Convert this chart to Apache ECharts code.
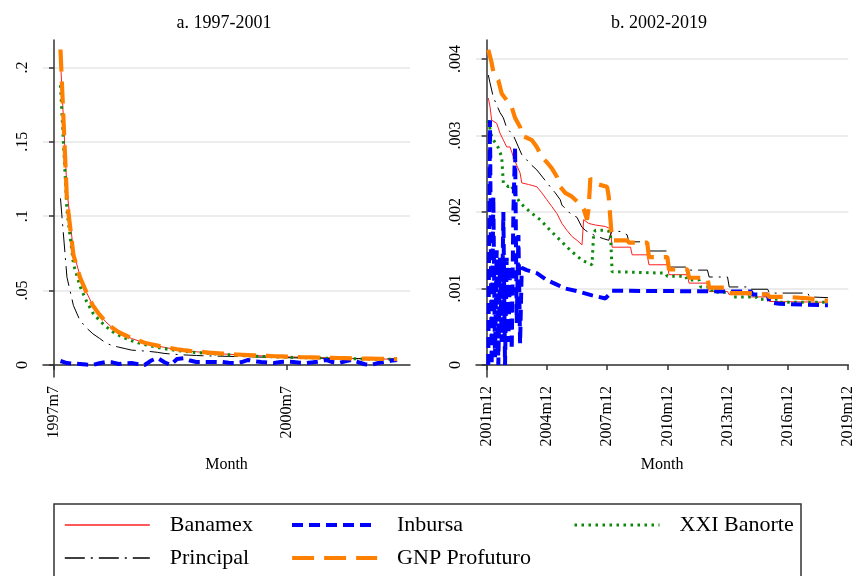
<!DOCTYPE html>
<html>
<head>
<meta charset="utf-8">
<script src="https://cdn.jsdelivr.net/npm/echarts@6/dist/echarts.min.js"></script>
<style>
html, body { margin: 0; padding: 0; background: #fff; }
#main { width: 856px; height: 576px; }
</style>
</head>
<body>
<div id="main"></div>
<script>
// series names (legend order)
var names = ['Banamex', 'Inbursa', 'XXI Banorte', 'Principal', 'GNP Profuturo'];

// panel a: monthly values 1997m8 .. 2001m12
var startA = '1997m8';
var banamexA = [0.205, 0.118, 0.076, 0.060, 0.049, 0.040, 0.034, 0.029, 0.025, 0.022, 0.0198, 0.0178, 0.0163, 0.0149, 0.0138, 0.0128, 0.0119, 0.0111, 0.0104, 0.0098, 0.0093, 0.0089, 0.0085, 0.0081, 0.0078, 0.0075, 0.0072, 0.0070, 0.0068, 0.0066, 0.0064, 0.0062, 0.0060, 0.0058, 0.0057, 0.0055, 0.0054, 0.0052, 0.0051, 0.0050, 0.0049, 0.0048, 0.0047, 0.0046, 0.0045, 0.0044, 0.0043, 0.0042, 0.0042, 0.0041, 0.0040, 0.0040, 0.0039];
var inbursaA = [0.0027, 0.0013, 0.0009, 0.0007, 0.0003, 0.0, 0.0012, 0.002, 0.0018, 0.0007, 0.0012, 0.0013, 0.0006, 0.0, 0.003, 0.0047, 0.002, 0.0, 0.004, 0.0045, 0.003, 0.002, 0.002, 0.002, 0.0021, 0.002, 0.0015, 0.0013, 0.002, 0.0034, 0.0025, 0.002, 0.0016, 0.0013, 0.002, 0.0022, 0.002, 0.0015, 0.0013, 0.0018, 0.0024, 0.0034, 0.002, 0.0013, 0.0025, 0.0034, 0.002, 0.0005, 0.0, 0.0013, 0.002, 0.0028, 0.0034];
var banorteA = [0.188, 0.104, 0.068, 0.053, 0.043, 0.035, 0.030, 0.026, 0.0225, 0.020, 0.018, 0.0163, 0.0149, 0.0137, 0.0127, 0.0118, 0.011, 0.0103, 0.0097, 0.0092, 0.0088, 0.0084, 0.008, 0.0077, 0.0074, 0.0071, 0.0069, 0.0066, 0.0064, 0.0062, 0.006, 0.0058, 0.0057, 0.0055, 0.0054, 0.0052, 0.0051, 0.005, 0.0049, 0.0048, 0.0047, 0.0046, 0.0045, 0.0044, 0.0043, 0.0042, 0.0041, 0.0041, 0.004, 0.0039, 0.0039, 0.0038, 0.0038];
var principalA = [0.112, 0.059, 0.040, 0.030, 0.025, 0.021, 0.018, 0.0148, 0.013, 0.012, 0.011, 0.010, 0.0097, 0.0094, 0.009, 0.0085, 0.0078, 0.0074, 0.0071, 0.0068, 0.0066, 0.0064, 0.0062, 0.0061, 0.006, 0.0059, 0.0058, 0.0057, 0.0056, 0.0055, 0.0054, 0.0053, 0.0052, 0.0051, 0.005, 0.0049, 0.0048, 0.0048, 0.0047, 0.0046, 0.0046, 0.0045, 0.0045, 0.0044, 0.0044, 0.0043, 0.0043, 0.0042, 0.0042, 0.0041, 0.0041, 0.0041, 0.0040];
var profuturoA = [0.212, 0.111, 0.074, 0.059, 0.049, 0.040, 0.034, 0.029, 0.025, 0.022, 0.020, 0.018, 0.0165, 0.015, 0.014, 0.013, 0.012, 0.0113, 0.0106, 0.0100, 0.0095, 0.0091, 0.0087, 0.0083, 0.0080, 0.0077, 0.0074, 0.0071, 0.0069, 0.0067, 0.0065, 0.0063, 0.0061, 0.0059, 0.0058, 0.0056, 0.0055, 0.0053, 0.0052, 0.0051, 0.0050, 0.0049, 0.0048, 0.0047, 0.0046, 0.0045, 0.0044, 0.0043, 0.0043, 0.0042, 0.0041, 0.0041, 0.0040];

// panel b: [month, value]
var banamexB = [['2002m1',0.00349],['2002m2',0.00338],['2002m3',0.0032],['2002m6',0.00316],['2002m8',0.00303],['2002m10',0.00294],['2002m12',0.00285],['2003m2',0.00285],['2003m4',0.00272],['2003m6',0.00261],['2003m8',0.00251],['2003m9',0.00238],['2004m1',0.00236],['2004m6',0.00233],['2004m9',0.00225],['2004m12',0.00216],['2005m3',0.00207],['2005m6',0.00198],['2005m9',0.00185],['2005m12',0.00176],['2006m3',0.00168],['2006m6',0.00163],['2006m9',0.00157],['2006m10',0.0019],['2007m1',0.00185],['2007m5',0.00183],['2007m11',0.00181],['2008m2',0.00178],['2008m3',0.00154],['2009m2',0.00154],['2009m3',0.00144],['2009m12',0.00144],['2010m1',0.00131],['2010m12',0.00131],['2011m1',0.00118],['2011m12',0.00118],['2012m1',0.00107],['2012m12',0.00107],['2013m1',0.00096],['2013m12',0.00096],['2014m1',0.00092],['2014m12',0.00092],['2015m1',0.00089],['2015m12',0.00089],['2016m1',0.00083],['2018m12',0.00082]];
var inbursaB = [['2002m1',0.0],['2002m2',0.0032],['2002m3',0.0],['2002m4',0.0022],['2002m5',0.0001],['2002m6',0.0015],['2002m7',0.0],['2002m8',0.0014],['2002m9',0.0003],['2002m10',0.002],['2002m11',0.0],['2002m12',0.0014],['2003m1',0.0003],['2003m2',0.0013],['2003m3',0.0002],['2003m4',0.002],['2003m5',0.00285],['2003m6',0.00055],['2003m7',0.0017],['2003m8',0.00028],['2003m9',0.00127],['2003m12',0.00124],['2004m6',0.0012],['2004m12',0.00111],['2005m6',0.00105],['2005m11',0.001],['2006m7',0.00096],['2007m3',0.00091],['2007m11',0.00087],['2007m12',0.00086],['2008m2',0.00094],['2008m3',0.00097],['2015m2',0.00096],['2015m3',0.00092],['2015m12',0.00092],['2016m1',0.00082],['2016m7',0.0008],['2018m12',0.00078]];
var banorteB = [['2002m1',0.0032],['2002m3',0.00298],['2002m7',0.00284],['2002m9',0.00272],['2002m10',0.00238],['2003m1',0.00233],['2003m3',0.00235],['2003m4',0.00226],['2003m8',0.00212],['2004m2',0.002],['2004m8',0.0019],['2005m2',0.00176],['2005m8',0.00163],['2006m2',0.0015],['2006m9',0.00137],['2007m3',0.00131],['2007m4',0.00173],['2007m5',0.00176],['2007m11',0.00176],['2008m2',0.00174],['2008m3',0.00122],['2010m11',0.0012],['2010m12',0.00116],['2011m11',0.00116],['2011m12',0.00111],['2012m7',0.00111],['2012m8',0.00102],['2013m2',0.00102],['2013m3',0.00095],['2014m2',0.00095],['2014m3',0.00089],['2015m5',0.00089],['2015m6',0.00086],['2016m6',0.00086],['2016m7',0.00082],['2018m12',0.00082]];
var principalB = [['2002m1',0.00379],['2002m2',0.00369],['2002m4',0.0035],['2002m8',0.0033],['2002m10',0.00323],['2002m12',0.0031],['2003m4',0.003],['2003m7',0.00285],['2003m9',0.00275],['2004m3',0.00261],['2004m6',0.00255],['2005m2',0.00233],['2005m5',0.00225],['2005m8',0.00216],['2005m9',0.00209],['2006m2',0.00198],['2006m6',0.00193],['2006m9',0.0018],['2006m11',0.00176],['2007m2',0.00172],['2007m6',0.00168],['2007m10',0.00165],['2008m1',0.00163],['2008m2',0.0017],['2008m3',0.00176],['2008m9',0.00174],['2008m12',0.0017],['2009m1',0.00161],['2009m12',0.00161],['2010m1',0.00149],['2010m12',0.00149],['2011m1',0.00128],['2011m12',0.00128],['2012m1',0.00124],['2012m12',0.00124],['2013m1',0.00115],['2013m12',0.00115],['2014m1',0.00102],['2014m12',0.00102],['2015m1',0.00099],['2015m12',0.00099],['2016m1',0.00094],['2017m12',0.00094],['2018m1',0.00089],['2018m12',0.00088]];
var profuturoB = [['2002m1',0.00412],['2002m3',0.00395],['2002m4',0.00383],['2002m7',0.00372],['2002m9',0.00355],['2002m12',0.00346],['2003m3',0.00337],['2003m5',0.00323],['2003m8',0.00311],['2003m9',0.003],['2003m12',0.00297],['2004m3',0.00294],['2004m6',0.00285],['2004m9',0.00272],['2004m12',0.00265],['2005m3',0.00257],['2005m6',0.00246],['2005m8',0.00233],['2005m11',0.00225],['2006m3',0.0022],['2006m7',0.00212],['2006m10',0.00204],['2006m12',0.0019],['2007m1',0.00205],['2007m2',0.00244],['2007m5',0.00237],['2007m12',0.00233],['2008m1',0.0022],['2008m2',0.0019],['2008m3',0.00163],['2008m12',0.00163],['2009m1',0.0016],['2009m12',0.0016],['2010m1',0.00141],['2010m12',0.00141],['2011m1',0.00125],['2011m12',0.00125],['2012m1',0.00114],['2012m12',0.00114],['2013m1',0.00101],['2013m12',0.00101],['2014m1',0.00094],['2014m12',0.00094],['2015m1',0.00092],['2015m12',0.00092],['2016m1',0.00089],['2016m12',0.00089],['2017m1',0.00087],['2017m12',0.00087],['2018m1',0.00085],['2018m12',0.00084]];

// ticks
var yTicksA = [0, 0.05, 0.1, 0.15, 0.2];
var yTicksB = [0, 0.001, 0.002, 0.003, 0.004];
var xTicksA = ['1997m7', '2000m7'];
var xTicksB = ['2001m12', '2004m12', '2007m12', '2010m12', '2013m12', '2016m12', '2019m12'];

var FONT = '"Liberation Serif", "Times New Roman", serif';
var baseA = '1997m7', baseB = '2001m12';

function mIndex(lbl) {
    var p = lbl.split('m');
    return (+p[0]) * 12 + (+p[1] - 1);
}
function mLabel(idx) {
    return Math.floor(idx / 12) + 'm' + (idx % 12 + 1);
}
function fmtY(v) {
    return v === 0 ? '0' : String(v).replace(/^0\./, '.');
}

var styles = {
    'Banamex':       { color: '#ff2020', width: 1,   type: 'solid' },
    'Principal':     { color: '#000000', width: 1,   type: [20, 6, 2, 6] },
    'XXI Banorte':   { color: '#0a8a0a', width: 3,   type: [2.5, 4.5] },
    'Inbursa':       { color: '#0000ff', width: 4,   type: [11, 6] },
    'GNP Profuturo': { color: '#ff8000', width: 4.2, type: [22, 10] }
};

var dataA = { 'Banamex': banamexA, 'Inbursa': inbursaA, 'XXI Banorte': banorteA, 'Principal': principalA, 'GNP Profuturo': profuturoA };
var dataB = { 'Banamex': banamexB, 'Inbursa': inbursaB, 'XXI Banorte': banorteB, 'Principal': principalB, 'GNP Profuturo': profuturoB };
var drawOrder = ['Banamex', 'Principal', 'XXI Banorte', 'Inbursa', 'GNP Profuturo'];

var series = [];
drawOrder.forEach(function (name, k) {
    var st = styles[name];
    var a0 = mIndex(startA) - mIndex(baseA);
    series.push({
        name: name, type: 'line', xAxisIndex: 0, yAxisIndex: 0,
        symbol: 'none', z: 2 + k, animation: false,
        color: st.color,
        lineStyle: { color: st.color, width: st.width, type: st.type },
        data: dataA[name].map(function (v, i) { return [a0 + i, v]; })
    });
    series.push({
        name: name, type: 'line', xAxisIndex: 1, yAxisIndex: 1,
        symbol: 'none', z: 2 + k, animation: false,
        color: st.color,
        lineStyle: { color: st.color, width: st.width, type: st.type },
        data: dataB[name].map(function (d) { return [mIndex(d[0]) - mIndex(baseB), d[1]]; })
    });
});

function xAxisCfg(grid, min, max, ticks, base) {
    var vals = ticks.map(function (t) { return mIndex(t) - mIndex(base); });
    return {
        gridIndex: grid, type: 'value', min: min, max: max,
        name: 'Month', nameLocation: 'middle', nameGap: 80,
        nameTextStyle: { fontFamily: FONT, fontSize: 16, color: '#000' },
        axisLine: { show: true, lineStyle: { color: '#333', width: 1.5 } },
        axisTick: { show: true, customValues: vals, length: 5, lineStyle: { color: '#333', width: 1.5 } },
        axisLabel: {
            customValues: vals, rotate: 90, margin: 9,
            fontFamily: FONT, fontSize: 16, color: '#000',
            formatter: function (v) { return mLabel(v + mIndex(base)); }
        },
        splitLine: { show: false }
    };
}
function yAxisCfg(grid, min, max, ticks) {
    return {
        gridIndex: grid, type: 'value', min: min, max: max,
        axisLine: { show: true, lineStyle: { color: '#333', width: 1.5 } },
        axisTick: { show: true, customValues: ticks, length: 5, lineStyle: { color: '#333', width: 1.5 } },
        axisLabel: {
            customValues: ticks, rotate: 90, margin: 12,
            fontFamily: FONT, fontSize: 16, color: '#000',
            formatter: fmtY
        },
        splitLine: { show: true, lineStyle: { color: '#e6e6e6', width: 1.5 } }
    };
}

var legendPos = [
    ['Banamex', 64, 514], ['Principal', 64, 547],
    ['Inbursa', 290, 514], ['GNP Profuturo', 290, 547],
    ['XXI Banorte', 573, 514]
];

var myChart = echarts.init(document.getElementById('main'));
var option = {
    backgroundColor: '#fff',
    animation: false,
    grid: [
        { left: 43, top: 40, width: 367, height: 337 },
        { left: 476, top: 40, width: 375, height: 337 }
    ],
    xAxis: [
        xAxisCfg(0, -1.7, 55, xTicksA, baseA),
        xAxisCfg(1, -6.35, 216.2, xTicksB, baseB)
    ],
    yAxis: [
        yAxisCfg(0, -0.00806, 0.2184, yTicksA),
        yAxisCfg(1, -0.000157, 0.004248, yTicksB)
    ],
    legend: legendPos.map(function (p) {
        var st = styles[p[0]];
        return {
            data: [p[0]], left: p[1], top: p[2],
            padding: 0, itemWidth: 85, itemHeight: 14, selectedMode: false,
            itemStyle: { color: 'rgba(0,0,0,0)', borderWidth: 0, opacity: 0 },
            lineStyle: { color: st.color, width: Math.max(st.width, 1.6), type: st.type },
            textStyle: { fontFamily: FONT, fontSize: 22, color: '#000', padding: [0, 0, 0, 15] }
        };
    }),
    graphic: [
        { type: 'text', x: 224, y: 23, style: { text: 'a. 1997-2001', align: 'center', verticalAlign: 'middle', font: '18px ' + FONT, fill: '#000' } },
        { type: 'text', x: 659, y: 23, style: { text: 'b. 2002-2019', align: 'center', verticalAlign: 'middle', font: '18px ' + FONT, fill: '#000' } },
        { type: 'rect', x: 54, y: 504, shape: { width: 747, height: 100 }, style: { fill: 'none', stroke: '#333', lineWidth: 1.5 } }
    ],
    series: series
};
myChart.setOption(option);
</script>
</body>
</html>
